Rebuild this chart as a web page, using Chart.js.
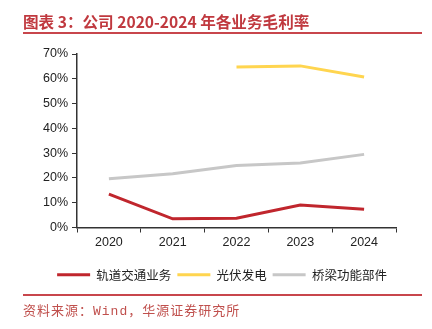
<!DOCTYPE html>
<html>
<head>
<meta charset="utf-8">
<script src="https://cdn.jsdelivr.net/npm/chart.js@4.4.1/dist/chart.umd.min.js"></script>
<style>
  html, body { margin: 0; padding: 0; background: #fff; }
  #wrap { position: relative; width: 432px; height: 329px; overflow: hidden; }
  #chart { position: absolute; left: 0; top: 0; }
  #title { position: absolute; left: 23px; top: 11px; font: bold 15.6px "Noto Sans CJK SC", sans-serif; color: #c0393f; line-height: 20px; white-space: nowrap; }
  .rule { position: absolute; left: 23px; width: 399px; height: 2px; background: #c8464c; }
  #source { position: absolute; left: 23px; top: 304px; font: 13px "Liberation Mono", "Noto Sans CJK SC", monospace; letter-spacing: 1px; color: #c0504d; line-height: 16px; white-space: nowrap; }
</style>
</head>
<body>
<div id="wrap">
  <canvas id="chart" width="432" height="329"></canvas>
  <div id="title">图表 3：公司 2020-2024 年各业务毛利率</div>
  <div class="rule" style="top:32px"></div>
  <div class="rule" style="top:294px"></div>
  <div id="source">资料来源：Wind，华源证券研究所</div>
</div>
<script>
const categories = ["2020", "2021", "2022", "2023", "2024"];
const railTransit = [0.135, 0.035, 0.037, 0.091, 0.074];
const photovoltaic = [null, null, 0.648, 0.652, 0.607];
const bridgeParts = [0.197, 0.217, 0.250, 0.260, 0.295];
const seriesNames = ["轨道交通业务", "光伏发电", "桥梁功能部件"];
const yTicks = [0, 0.1, 0.2, 0.3, 0.4, 0.5, 0.6, 0.7];

const colors = ["#c0262d", "#ffd54f", "#c7c7c7"];
const axisColor = "#333333";
const tickFont = { family: "'Liberation Sans', Arial, sans-serif", size: 12.5 };

function ds(label, data, color) {
  return {
    label, data,
    borderColor: color, backgroundColor: color,
    borderWidth: 3, pointRadius: 0, pointHoverRadius: 0,
    tension: 0, spanGaps: false, fill: false
  };
}

const shiftLegend = {
  id: "shiftLegend",
  afterLayout(chart) {
    const lg = chart.legend;
    if (lg) { lg.left = 12; lg.right = 432; }
  }
};

new Chart(document.getElementById("chart"), {
  type: "line",
  data: {
    labels: categories,
    datasets: [
      ds(seriesNames[0], railTransit, colors[0]),
      ds(seriesNames[1], photovoltaic, colors[1]),
      ds(seriesNames[2], bridgeParts, colors[2])
    ]
  },
  plugins: [shiftLegend],
  options: {
    responsive: false,
    animation: false,
    events: [],
    layout: { padding: { left: 0, right: 36, top: 54, bottom: 38 } },
    plugins: {
      tooltip: { enabled: false },
      legend: {
        position: "bottom",
        labels: {
          boxWidth: 33,
          boxHeight: 3,
          padding: 6,
          color: "#222",
          font: { family: "'Noto Sans CJK SC', sans-serif", size: 12.5 },
          generateLabels(chart) {
            return chart.data.datasets.map((d, i) => ({
              text: d.label,
              fillStyle: d.borderColor,
              strokeStyle: d.borderColor,
              lineWidth: 0,
              hidden: false,
              datasetIndex: i,
              fontColor: "#222"
            }));
          }
        }
      }
    },
    scales: {
      x: {
        offset: true,
        afterFit(scale) { scale.height = 35; },
        grid: { display: true, offset: true, drawOnChartArea: false, tickLength: 5, color: axisColor, lineWidth: 1 },
        border: { display: true, color: axisColor, width: 1.5 },
        ticks: { color: "#222", font: tickFont, padding: 3, maxRotation: 0 }
      },
      y: {
        min: 0,
        max: 0.7,
        afterFit(scale) { scale.width = 77; },
        afterBuildTicks(scale) { scale.ticks = yTicks.map(v => ({ value: v })); },
        grid: { display: true, drawOnChartArea: false, tickLength: 5, color: axisColor, lineWidth: 1 },
        border: { display: true, color: axisColor, width: 1.5 },
        ticks: {
          color: "#222", font: tickFont, padding: 4,
          callback: v => Math.round(v * 100) + "%"
        }
      }
    }
  }
});
</script>
</body>
</html>
